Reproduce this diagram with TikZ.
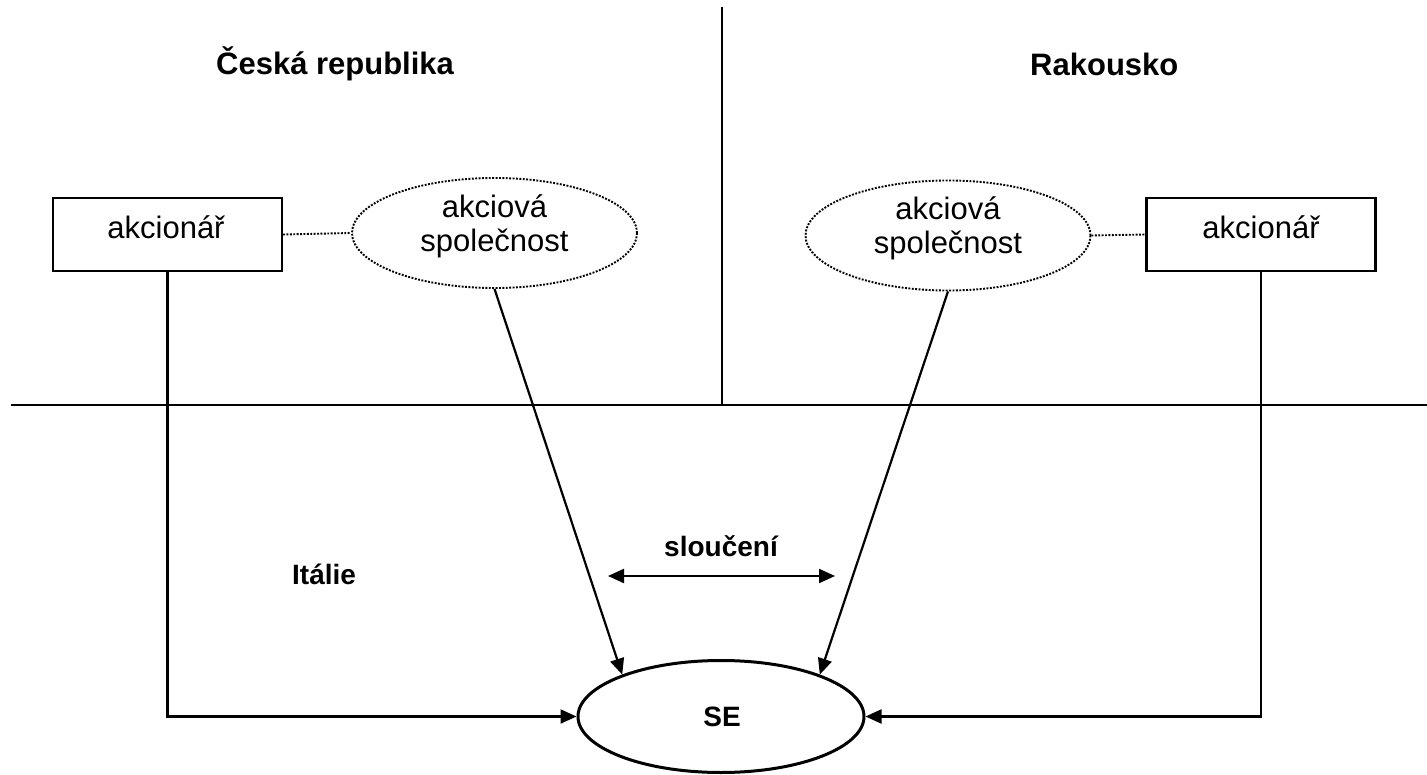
\documentclass[tikz,border=0pt]{standalone}
\usepackage{fontspec}
\setmainfont{Liberation Sans}
\usetikzlibrary{arrows.meta,shapes.geometric}
\begin{document}
\begin{tikzpicture}[x=1pt,y=-1pt,
  thick line/.style={line width=2.4pt},
  arr/.style={line width=2.2pt,-{Triangle[length=16pt,width=14pt]}},
  darr/.style={line width=2.2pt,{Triangle[length=16pt,width=14pt]}-{Triangle[length=16pt,width=14pt]}},
  box/.style={draw,line width=2.2pt,minimum width=229pt,minimum height=73pt,inner sep=0pt},
  dotell/.style={draw,ellipse,line width=1.9pt,dash pattern=on 1.9pt off 1.5pt,minimum width=285pt,minimum height=110pt,inner sep=0pt},
  seell/.style={draw,ellipse,line width=3pt,minimum width=286pt,minimum height=112pt,inner sep=0pt},
  dotline/.style={line width=1.9pt,dash pattern=on 1.9pt off 1.5pt},
  reg/.style={inner sep=0pt,font=\fontsize{31}{34}\selectfont},
  title/.style={inner sep=0pt,font=\fontsize{31}{36}\selectfont\bfseries},
  lbl/.style={inner sep=0pt,font=\fontsize{28}{32}\selectfont\bfseries}]
\useasboundingbox (0,0) rectangle (1427,775);

% frame lines
\coordinate (hl) at (11,405);
\coordinate (hr) at (1427,405);
\coordinate (vt) at (722,7);
\coordinate (vb) at (722,405);
\draw[thick line] (hl) -- (hr);
\draw[thick line] (vt) -- (vb);

% titles
\node[title,anchor=base west] (cz) at (216,75) {Česká republika};
\node[title,anchor=base west] (at) at (1030,76) {Rakousko};
\node[lbl,anchor=base west] (it) at (292,584) {Itálie};

% shapes
\node[box] (lbox) at (167.5,234.5) {};
\node[box] (rbox) at (1261,234.5) {};
\node[reg,anchor=base] (lboxt) at (166,239) {akcionář};
\node[reg,anchor=base] (rboxt) at (1261,239) {akcionář};

\node[dotell] (lell) at (494.5,233) {};
\node[dotell] (rell) at (948,235.5) {};
\node[reg,align=center,yshift=7pt] (lellt) at (lell.center) {akciová\\společnost};
\node[reg,align=center,yshift=7pt] (rellt) at (rell.center) {akciová\\společnost};

\node[seell] (se) at (721,716.5) {};
\node[lbl,anchor=base] (set) at (722,726) {SE};

% dotted links
\draw[dotline] (lbox.east) -- (lell.west);
\draw[dotline] (rell.east) -- (rbox.west);

% arrows to SE
\draw[arr] (lbox.south) |- (se.west);
\draw[arr] (rbox.south) |- (se.east);
\draw[arr] (lell.south) -- (se.157);
\draw[arr] (rell.south) -- (se.23);

% merger arrow
\coordinate (ma) at (608,576);
\coordinate (mb) at (835,576);
\draw[darr] (ma) -- (mb);
\node[lbl,anchor=base] (merge) at (721,556) {sloučení};
\end{tikzpicture}
\end{document}
